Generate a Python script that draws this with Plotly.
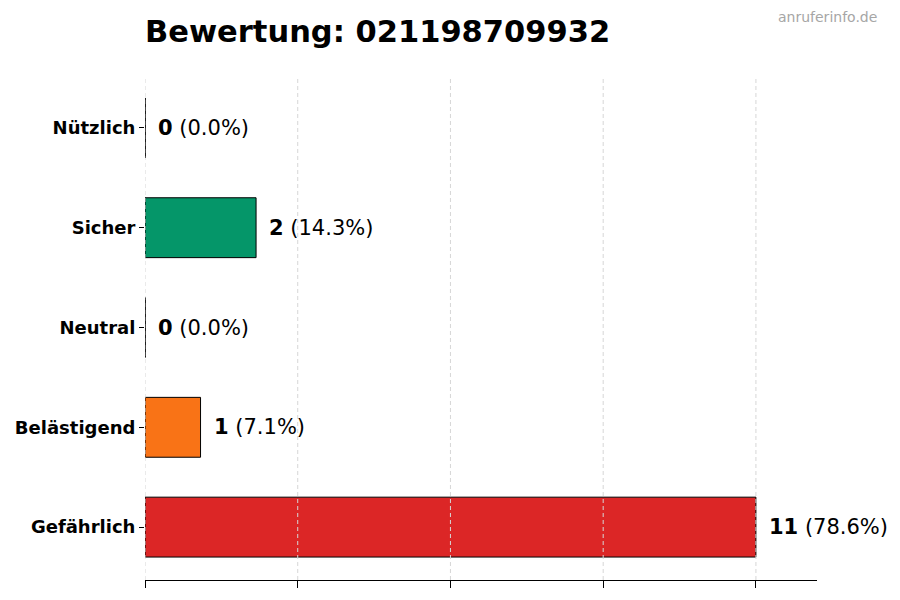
import plotly.graph_objects as go
import numpy as np

categories = ["Gefährlich", "Belästigend", "Neutral", "Sicher", "Nützlich"]
counts = [11, 1, 0, 2, 0]
colors = ["#DC2626", "#F97316", "#6B7280", "#059669", "#10B981"]
phone = "021198709932"

total = sum(counts)
max_val = max(counts)
tick_vals = list(np.linspace(0, max_val, 5))

W, H = 900, 600
L, R, T, B = 137, 91, 69, 28

fig = go.Figure()
fig.add_trace(go.Bar(
    y=categories,
    x=counts,
    orientation="h",
    width=0.6,
    marker=dict(color=colors, line=dict(color="black", width=1)),
    hoverinfo="skip",
))

# value labels next to each bar
for cat, val in zip(categories, counts):
    pct = val / total * 100
    fig.add_annotation(
        x=val, y=cat, xref="x", yref="y",
        text="<b>%d</b> (%.1f%%)" % (val, pct),
        showarrow=False, xanchor="left", xshift=11,
        font=dict(family="DejaVu Sans", size=21, color="black"),
    )

# dashed grid drawn over the bars, like matplotlib
for tv in tick_vals:
    fig.add_shape(
        type="line", xref="x", yref="paper",
        x0=tv, x1=tv, y0=0, y1=1,
        line=dict(color="#d6d6d6", width=1, dash="4px,3px"),
        layer="above",
    )

# outline for empty bars
for i, val in enumerate(counts):
    if val == 0:
        fig.add_shape(
            type="line", xref="x", yref="y",
            x0=0, x1=0, y0=i - 0.3, y1=i + 0.3,
            line=dict(color="black", width=1),
            layer="above",
        )

# watermark
fig.add_annotation(
    x=(871 - L) / (W - L - R), y=1 + (T - 9) / (H - T - B),
    xref="paper", yref="paper", text="anruferinfo.de",
    showarrow=False, xanchor="right", yanchor="middle",
    font=dict(family="DejaVu Sans", size=14, color="#a6a6a6"),
)

fig.update_layout(
    width=W, height=H,
    margin=dict(l=L, r=R, t=T, b=B),
    plot_bgcolor="white", paper_bgcolor="white",
    showlegend=False,
    title=dict(
        text="<b>Bewertung: %s</b>" % phone,
        x=L / W, xanchor="left", y=1 - 23 / H, yanchor="middle",
        font=dict(family="DejaVu Sans", size=30.5, color="black"),
    ),
    xaxis=dict(
        range=[0, max_val * 1.1],
        tickvals=tick_vals, showticklabels=False,
        ticks="outside", ticklen=7, tickcolor="black",
        showgrid=False, zeroline=False,
        showline=True, linecolor="black", linewidth=1,
        automargin=False,
    ),
    yaxis=dict(
        range=[-0.53, 4.51],
        ticks="outside", ticklen=5, tickcolor="black",
        showgrid=False, zeroline=False, showline=False,
        ticklabelstandoff=0, automargin=False,
        tickfont=dict(family="DejaVu Sans", size=18, color="black"),
        tickvals=categories,
        ticktext=["<b>%s</b>" % c for c in categories],
    ),
)

fig.write_html("out.html")
